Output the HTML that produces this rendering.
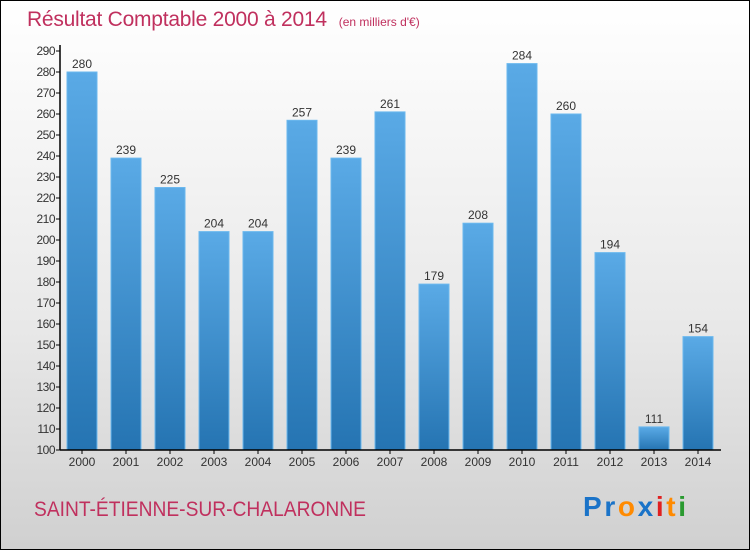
<!DOCTYPE html>
<html><head><meta charset="utf-8"><style>
body{margin:0;width:750px;height:550px;overflow:hidden;font-family:"Liberation Sans",sans-serif}
#wrap{position:absolute;left:0;top:0;width:748px;height:548px;border:1px solid #000;background:linear-gradient(#fff,#e8e8e8 60%,#d0d0d0)}
</style></head><body>
<div id="wrap">
<svg width="750" height="550" style="position:absolute;left:-1px;top:-1px">
<defs><linearGradient id="g" x1="0" y1="0" x2="0" y2="1"><stop offset="0" stop-color="#5aaae6"/><stop offset="1" stop-color="#2574b2"/></linearGradient></defs>
<text x="27" y="26" font-size="21" fill="#c0305e"><tspan textLength="300">Résultat Comptable 2000 à 2014</tspan><tspan font-size="12" dx="12">(en milliers d'€)</tspan></text>
<g id="yax"></g>
<g id="bars"></g>
<line x1="60" y1="450" x2="721" y2="450" stroke="#000" stroke-width="1.5"/>
<line x1="60" y1="45" x2="60" y2="450" stroke="#000" stroke-width="1.5"/>
<text x="34" y="516" font-size="21" fill="#c0305e" textLength="332" lengthAdjust="spacingAndGlyphs">SAINT-ÉTIENNE-SUR-CHALARONNE</text>
<text x="583" y="516" font-size="28" font-weight="bold" textLength="103"><tspan fill="#1a73c8">Pr</tspan><tspan fill="#ff8a00">o</tspan><tspan fill="#1a73c8">x</tspan><tspan fill="#e02020">i</tspan><tspan fill="#ff8a00">t</tspan><tspan fill="#2a9a30">i</tspan></text>
</svg></div>
<script>
const years=["2000","2001","2002","2003","2004","2005","2006","2007","2008","2009","2010","2011","2012","2013","2014"];
const values=[280,239,225,204,204,257,239,261,179,208,284,260,194,111,154];
const yTicks=[100,110,120,130,140,150,160,170,180,190,200,210,220,230,240,250,260,270,280,290];
const NS="http://www.w3.org/2000/svg";
function y(v){return 450-(v-100)*2.1;}
function x(i){return 82+i*44;}
function mk(t,a,p){const e=document.createElementNS(NS,t);for(const k in a)e.setAttribute(k,a[k]);p.appendChild(e);return e;}
const ya=document.getElementById('yax'),bs=document.getElementById('bars');
yTicks.forEach(v=>{
 const l=mk('line',{x1:56,x2:60,y1:y(v),y2:y(v),stroke:'#000'},ya);
 
 
 const t=mk('text',{x:55,y:y(v)+4,'font-size':12,'text-anchor':'end',fill:'#333','letter-spacing':'-0.5'},ya);
 t.textContent=v;
 
 
});
values.forEach((v,i)=>{
 const r=mk('rect',{x:x(i)-15,y:y(v),width:30,height:450-y(v),fill:'url(#g)',stroke:'#6bb8ee','stroke-width':1},bs);
 
 
 const t=mk('text',{x:x(i),y:y(v)-4,'font-size':12,'text-anchor':'middle',fill:'#333'},bs);
 t.textContent=v;
 
 
 const k=mk('line',{x1:x(i),x2:x(i),y1:450,y2:454,stroke:'#000'},bs);
 
 
 const xl=mk('text',{x:x(i),y:466,'font-size':12,'text-anchor':'middle',fill:'#333'},bs);
 xl.textContent=years[i];
 
 
});
</script>
</body></html>
